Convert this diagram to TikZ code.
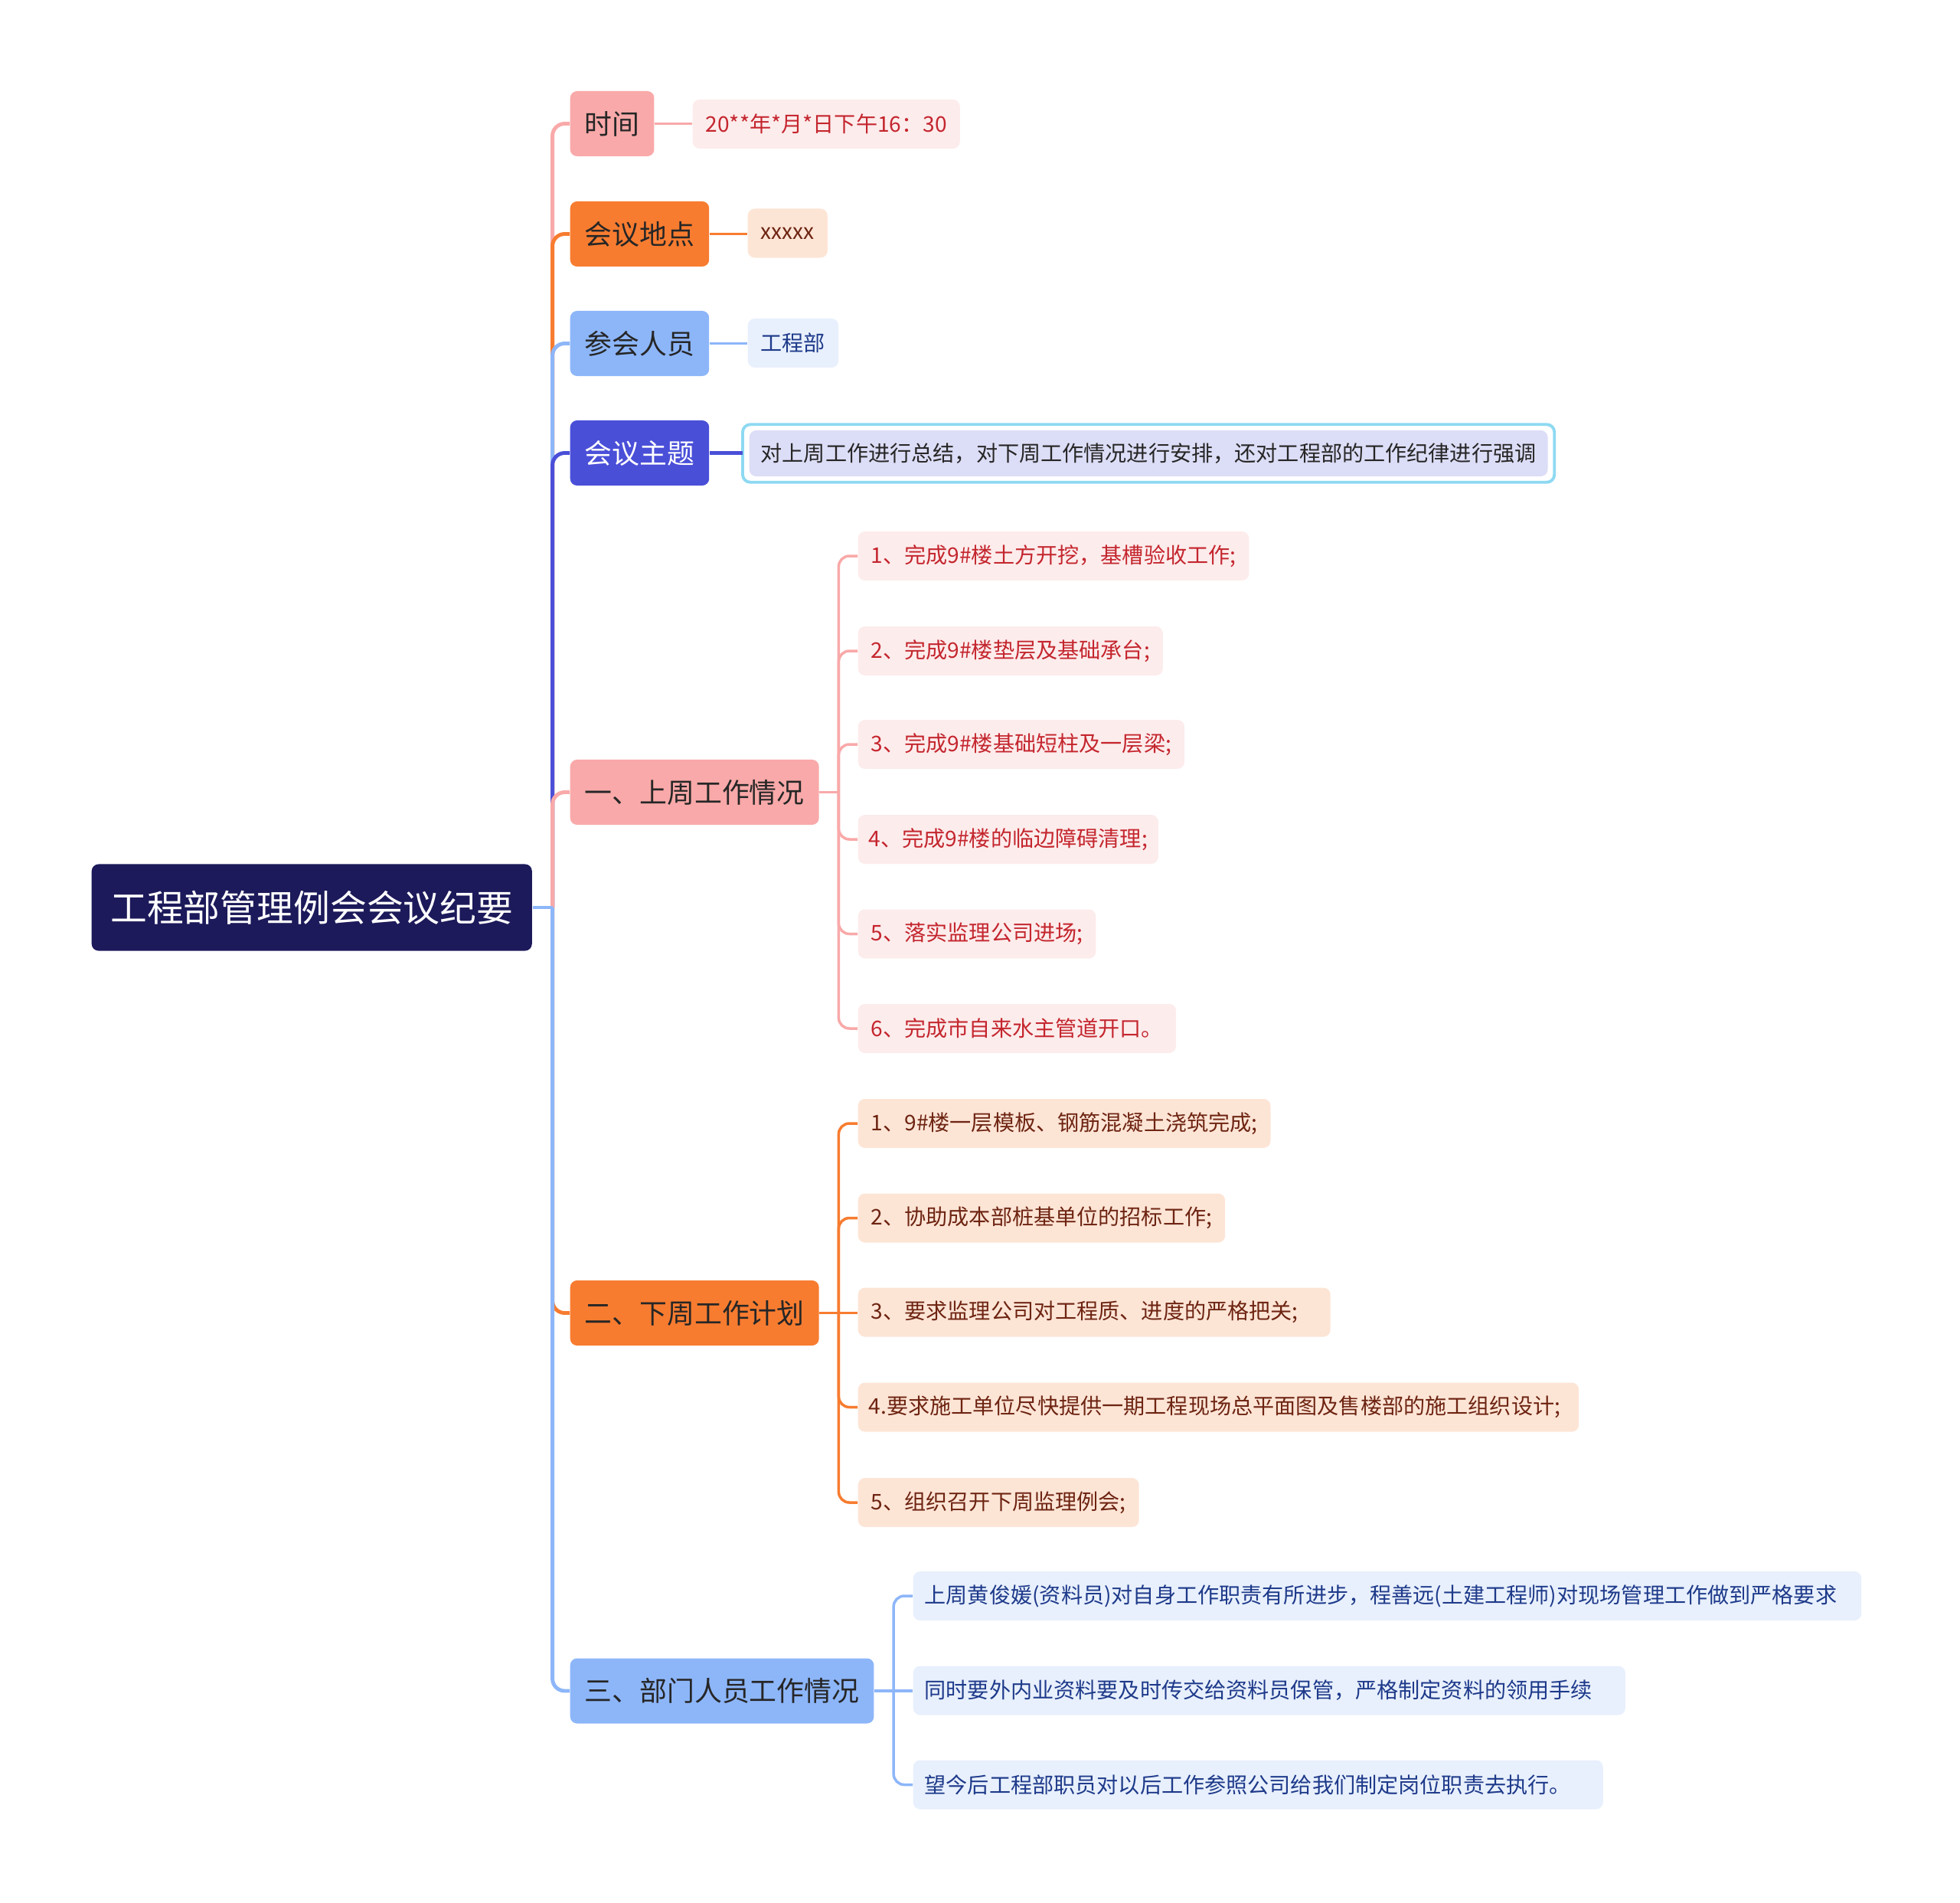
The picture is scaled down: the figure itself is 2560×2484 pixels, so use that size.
\documentclass[tikz,border=0pt]{standalone}
\usepackage{fontspec}
\setmainfont{Noto Sans CJK SC}
\definecolor{rootc}{HTML}{1C1A5A}
\definecolor{pinkA}{HTML}{F9A9A9}
\definecolor{pinkB}{HTML}{FDECEC}
\definecolor{pinkT}{HTML}{C4262E}
\definecolor{orA}{HTML}{F77C30}
\definecolor{orB}{HTML}{FDE5D6}
\definecolor{orT}{HTML}{6E2412}
\definecolor{blA}{HTML}{8DB6F9}
\definecolor{blB}{HTML}{E8F0FD}
\definecolor{blT}{HTML}{1E3A8A}
\definecolor{inA}{HTML}{4A4FD8}
\definecolor{lavB}{HTML}{DCDDF6}
\definecolor{cyanE}{HTML}{8ED9F2}
\definecolor{darkT}{HTML}{262626}
\begin{document}
\begin{tikzpicture}[x=0.01cm,y=-0.01cm,
  box/.style={anchor=west, rounded corners=0.09cm, inner ysep=0pt},
  rootbox/.style={box, fill=rootc, text=white, minimum height=1.13cm, inner xsep=0.245cm, font=\fontsize{13.6pt}{16pt}\selectfont},
  lone/.style={box, minimum height=0.85cm, inner xsep=0.19cm, font=\fontsize{10.2pt}{12pt}\selectfont, text=darkT},
  ltwo/.style={box, minimum height=0.64cm, inner xsep=0.17cm, font=\fontsize{8pt}{10pt}\selectfont},
  pk/.style={lone, fill=pinkA},
  og/.style={lone, fill=orA},
  bl/.style={lone, fill=blA},
  ind/.style={lone, fill=inA, text=white},
  pkb/.style={ltwo, fill=pinkB, text=pinkT},
  ogb/.style={ltwo, fill=orB, text=orT},
  blb/.style={ltwo, fill=blB, text=blT},
  thick1/.style={line width=1.4pt},
  thin1/.style={line width=1pt, rounded corners=0.14cm},
  rc/.style={line width=1.4pt, rounded corners=0.16cm}
]
\useasboundingbox (0,0) rectangle (2560,2484);

% root
\node[rootbox] (root) at (119,1185) {工程部管理例会会议纪要};

% level 1
\node[pk]  (a1) at (744,161.5) {时间};
\node[og]  (a2) at (744,305.5) {会议地点};
\node[bl]  (a3) at (744,448.5) {参会人员};
\node[ind] (a4) at (744,591.5) {会议主题};
\node[pk]  (a5) at (744,1034.5) {一、上周工作情况};
\node[og]  (a6) at (744,1714.5) {二、下周工作计划};
\node[bl]  (a7) at (744,2208) {三、部门人员工作情况};

% root connectors
\coordinate (rt) at ([xshift=0.26cm]root.east);
\draw[pinkA,thick1] (root.east) -- (rt);
\draw[pinkA,rc] (rt) |- (a1.west);
\draw[orA,rc] (rt) |- (a2.west);
\draw[blA,rc] (rt) |- (a3.west);
\draw[inA,rc] (rt) |- (a4.west);
\draw[pinkA,rc] (rt) |- (a5.west);
\draw[orA,rc] (rt) |- (a6.west);
\draw[blA,thick1] (root.east) -- (rt);
\draw[blA,rc] (rt) |- (a7.west);

% simple children
\node[pkb] (b1) at (904,162) {20**年*月*日下午16：30};
\node[ogb] (b2) at (976,304.5) {xxxxx};
\node[blb] (b3) at (976,448) {工程部};
\node[ltwo, fill=lavB, text=darkT, inner xsep=0.15cm, minimum height=0.6cm] (b4) at (978,592)
  {对上周工作进行总结，对下周工作情况进行安排，还对工程部的工作纪律进行强调};
\draw[cyanE, line width=1.1pt, rounded corners=0.1cm]
  ([xshift=-0.08cm,yshift=0.07cm]b4.north west) rectangle ([xshift=0.08cm,yshift=-0.07cm]b4.south east);

\draw[pinkA,line width=1pt] (a1.east) -- (a1.east -| b1.west);
\draw[orA,line width=1pt] (a2.east) -- (a2.east -| b2.west);
\draw[blA,line width=1pt] (a3.east) -- (a3.east -| b3.west);
\draw[inA,line width=1.2pt] (a4.east) -- ([xshift=-0.08cm]a4.east -| b4.west);

% 一
\node[pkb] (c1) at (1120,726) {1、完成9\#楼土方开挖，基槽验收工作;};
\node[pkb] (c2) at (1120,850) {2、完成9\#楼垫层及基础承台;};
\node[pkb] (c3) at (1120,972) {3、完成9\#楼基础短柱及一层梁;};
\node[pkb, inner xsep=0.14cm] (c4) at (1120,1096) {4、完成9\#楼的临边障碍清理;};
\node[pkb] (c5) at (1120,1219.5) {5、落实监理公司进场;};
\node[pkb] (c6) at (1120,1343) {6、完成市自来水主管道开口。};
\coordinate (k1) at ([xshift=0.25cm]a5.east);
\draw[pinkA,line width=1pt] (a5.east) -- (k1);
\foreach \n in {c1,c2,c3,c4,c5,c6} \draw[pinkA,thin1] (k1) |- (\n.west);

% 二
\node[ogb] (d1) at (1120,1467) {1、9\#楼一层模板、钢筋混凝土浇筑完成;};
\node[ogb] (d2) at (1120,1590.5) {2、协助成本部桩基单位的招标工作;};
\node[ogb] (d3) at (1120,1713.5) {3、要求监理公司对工程质、进度的严格把关;\kern0.25cm};
\node[ogb, inner xsep=0.14cm] (d4) at (1120,1837.5) {4.要求施工单位尽快提供一期工程现场总平面图及售楼部的施工组织设计;\kern0.1cm};
\node[ogb] (d5) at (1120,1962) {5、组织召开下周监理例会;};
\coordinate (k2) at ([xshift=0.25cm]a6.east);
\draw[orA,line width=1pt] (a6.east) -- (k2);
\foreach \n in {d1,d2,d4,d5} \draw[orA,thin1] (k2) |- (\n.west);
\draw[orA,line width=1pt] (k2) -- (k2 -| d3.west);

% 三
\node[blb, inner xsep=0.15cm] (e1) at (1192,2084) {上周黄俊媛(资料员)对自身工作职责有所进步，程善远(土建工程师)对现场管理工作做到严格要求\kern0.17cm};
\node[blb, inner xsep=0.15cm] (e2) at (1192,2207.5) {同时要外内业资料要及时传交给资料员保管，严格制定资料的领用手续\kern0.28cm};
\node[blb, inner xsep=0.15cm] (e3) at (1192,2330.5) {望今后工程部职员对以后工作参照公司给我们制定岗位职责去执行。\kern0.27cm};
\coordinate (k3) at ([xshift=0.25cm]a7.east);
\draw[blA,line width=1pt] (a7.east) -- (k3);
\foreach \n in {e1,e3} \draw[blA,thin1] (k3) |- (\n.west);
\draw[blA,line width=1pt] (k3) -- (k3 -| e2.west);
\end{tikzpicture}
\end{document}
